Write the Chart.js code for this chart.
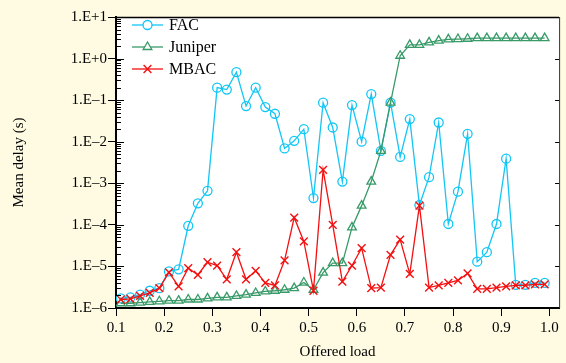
<!DOCTYPE html>
<html>
<head>
<meta charset="utf-8">
<script src="https://cdn.jsdelivr.net/npm/chart.js@4.4.1/dist/chart.umd.min.js"></script>
<style>
  html, body { margin: 0; padding: 0; background: #fefbe2; }
  #wrap { width: 566px; height: 363px; }
</style>
</head>
<body>
<div id="wrap"><canvas id="delayChart" width="566" height="363"></canvas></div>
<script>
// offered load (x positions of the samples)
const loads = [0.11, 0.13, 0.15, 0.17, 0.19, 0.21, 0.23, 0.25, 0.27, 0.29,
               0.31, 0.33, 0.35, 0.37, 0.39, 0.41, 0.43, 0.45, 0.47, 0.49,
               0.51, 0.53, 0.55, 0.57, 0.59, 0.61, 0.63, 0.65, 0.67, 0.69,
               0.71, 0.73, 0.75, 0.77, 0.79, 0.81, 0.83, 0.85, 0.87, 0.89,
               0.91, 0.93, 0.95, 0.97, 0.99];

// mean delay in seconds
const facDelay = [1.7e-6, 1.8e-6, 2.1e-6, 2.6e-6, 3.0e-6, 7.6e-6, 8.5e-6, 9.5e-5, 3.3e-4, 6.6e-4,
                  0.20, 0.18, 0.47, 0.072, 0.20, 0.068, 0.047, 0.0069, 0.0105, 0.020,
                  4.4e-4, 0.087, 0.022, 0.0011, 0.076, 0.010, 0.14, 0.0060, 0.087, 0.0043,
                  0.035, 3.0e-4, 0.0014, 0.029, 1.05e-4, 6.3e-4, 0.0155, 1.3e-5, 2.2e-5, 1.05e-4,
                  0.0039, 3.6e-6, 3.6e-6, 4.0e-6, 4.0e-6];
const juniperDelay = [1.3e-6, 1.3e-6, 1.35e-6, 1.4e-6, 1.45e-6, 1.5e-6, 1.5e-6, 1.6e-6, 1.6e-6, 1.7e-6,
                      1.8e-6, 1.8e-6, 1.95e-6, 2.1e-6, 2.3e-6, 2.5e-6, 2.6e-6, 2.75e-6, 3.0e-6, 4.1e-6,
                      2.75e-6, 7.1e-6, 1.2e-5, 1.2e-5, 8.7e-5, 2.9e-4, 0.0011, 0.006, 0.087, 1.17,
                      2.14, 2.14, 2.45, 2.7, 2.9, 2.95, 3.0, 3.1, 3.1, 3.1,
                      3.1, 3.1, 3.1, 3.1, 3.1];
const mbacDelay = [1.6e-6, 1.65e-6, 1.95e-6, 2.3e-6, 3.0e-6, 7.2e-6, 3.3e-6, 9.1e-6, 6.3e-6, 1.26e-5,
                   1.05e-5, 4.9e-6, 2.2e-5, 4.9e-6, 7.8e-6, 4.0e-6, 3.5e-6, 1.4e-5, 1.5e-4, 4.0e-5,
                   2.6e-6, 0.0021, 1.0e-4, 4.3e-6, 1.05e-5, 2.75e-5, 3.0e-6, 3.1e-6, 1.9e-5, 4.4e-5,
                   6.6e-6, 2.9e-4, 3.1e-6, 3.5e-6, 4.0e-6, 4.6e-6, 6.8e-6, 2.9e-6, 2.9e-6, 3.1e-6,
                   3.3e-6, 3.5e-6, 3.5e-6, 3.7e-6, 3.7e-6];

const xTicks = [0.1, 0.2, 0.3, 0.4, 0.5, 0.6, 0.7, 0.8, 0.9, 1.0];
const yTicks = [1e-6, 1e-5, 1e-4, 1e-3, 1e-2, 1e-1, 1, 10];
const yTickLabels = ['1.E\u20136', '1.E\u20135', '1.E\u20134', '1.E\u20133', '1.E\u20132', '1.E\u20131', '1.E+0', '1.E+1'];

const FONT = 'Liberation Serif, Times New Roman, serif';

function pts(values) {
    return values.map((v, i) => ({ x: loads[i], y: v }));
}

// white plot area, frame, inner log ticks
const framePlugin = {
    id: 'frame',
    beforeDraw(chart) {
        const { ctx, chartArea: a } = chart;
        ctx.save();
        ctx.fillStyle = '#ffffff';
        ctx.fillRect(a.left, a.top, a.right - a.left, a.bottom - a.top);
        ctx.restore();
    },
    afterDraw(chart) {
        const { ctx, chartArea: a, scales } = chart;
        const y = scales.y;
        ctx.save();
        ctx.strokeStyle = '#000';
        ctx.lineWidth = 1;
        for (let e = -6; e <= 1; e++) {
            const py = Math.round(y.getPixelForValue(Math.pow(10, e))) + 0.5;
            ctx.beginPath();
            ctx.moveTo(a.left, py); ctx.lineTo(a.left + 8, py);
            ctx.moveTo(a.right, py); ctx.lineTo(a.right - 4, py);
            ctx.stroke();
            if (e === 1) break;
            for (let m = 2; m <= 9; m++) {
                const pm = Math.round(y.getPixelForValue(m * Math.pow(10, e))) + 0.5;
                ctx.beginPath();
                ctx.moveTo(a.left, pm); ctx.lineTo(a.left + 5, pm);
                ctx.stroke();
            }
        }
        ctx.lineWidth = 1.5;
        ctx.beginPath();
        ctx.moveTo(a.left, a.top + 0.5); ctx.lineTo(a.right, a.top + 0.5);
        ctx.stroke();
        ctx.lineWidth = 1;
        ctx.strokeStyle = '#333';
        ctx.beginPath();
        ctx.moveTo(a.right + 0.5, a.top); ctx.lineTo(a.right + 0.5, a.bottom);
        ctx.stroke();
        ctx.restore();
    }
};

// legend inside the plot, top left
const legendPlugin = {
    id: 'innerLegend',
    afterDraw(chart) {
        const { ctx } = chart;
        const rows = [0, 1, 2];
        ctx.save();
        rows.forEach((di, r) => {
            const ds = chart.data.datasets[di];
            const yy = 25 + r * 22;
            ctx.strokeStyle = ds.borderColor;
            ctx.lineWidth = ds.borderWidth;
            ctx.beginPath();
            ctx.moveTo(132, yy); ctx.lineTo(163, yy);
            ctx.stroke();
            // hollow marker
            ctx.fillStyle = '#ffffff';
            ctx.strokeStyle = ds.borderColor;
            ctx.lineWidth = ds.pointBorderWidth;
            Chart.helpers.drawPoint(ctx, {
                pointStyle: ds.pointStyle,
                radius: ds.pointRadius,
                borderWidth: ds.pointBorderWidth,
                rotation: 0
            }, 147.5, yy);
            ctx.fillStyle = '#000';
            ctx.font = '16px ' + FONT;
            ctx.textBaseline = 'middle';
            ctx.textAlign = 'left';
            ctx.fillText(ds.label, 169, yy + 1);
        });
        ctx.restore();
    }
};

const ctx = document.getElementById('delayChart').getContext('2d');
new Chart(ctx, {
    type: 'line',
    data: {
        datasets: [{
            label: 'FAC',
            data: pts(facDelay),
            borderColor: '#12c6f6',
            backgroundColor: 'rgba(0,0,0,0)',
            borderWidth: 1.3,
            pointStyle: 'circle',
            pointRadius: 4.5,
            pointBorderWidth: 1.3,
            pointBackgroundColor: 'rgba(0,0,0,0)',
            order: 2
        },
        {
            label: 'Juniper',
            data: pts(juniperDelay),
            borderColor: '#389a68',
            backgroundColor: 'rgba(0,0,0,0)',
            borderWidth: 1.3,
            pointStyle: 'triangle',
            pointRadius: 5,
            pointBorderWidth: 1.3,
            pointBackgroundColor: 'rgba(0,0,0,0)',
            order: 1
        },
        {
            label: 'MBAC',
            data: pts(mbacDelay),
            borderColor: '#f41010',
            backgroundColor: 'rgba(0,0,0,0)',
            borderWidth: 1.3,
            pointStyle: 'crossRot',
            pointRadius: 5.5,
            pointBorderWidth: 1.4,
            pointBackgroundColor: 'rgba(0,0,0,0)',
            order: 0
        }]
    },
    options: {
        responsive: false,
        animation: false,
        layout: { padding: { top: 17, right: 4, left: 0, bottom: 0 } },
        plugins: {
            legend: { display: false },
            tooltip: { enabled: false }
        },
        elements: { line: { tension: 0 } },
        scales: {
            x: {
                type: 'linear',
                min: 0.1,
                max: 1.02,
                afterBuildTicks: (s) => { s.ticks = xTicks.map(v => ({ value: v })); },
                afterFit: (s) => { s.height = 55; },
                grid: { drawOnChartArea: false, tickLength: 8, color: '#000', lineWidth: 1 },
                border: { color: '#000', width: 2 },
                ticks: {
                    color: '#000',
                    font: { family: FONT, size: 15 },
                    padding: 3,
                    autoSkip: false,
                    maxRotation: 0,
                    callback: (v) => Number(v).toFixed(1)
                },
                title: {
                    display: true,
                    text: 'Offered load',
                    color: '#000',
                    font: { family: FONT, size: 15 },
                    padding: { top: 0, bottom: 2 }
                }
            },
            y: {
                type: 'logarithmic',
                min: 1e-6,
                max: 10,
                afterBuildTicks: (s) => { s.ticks = yTicks.map(v => ({ value: v })); },
                afterFit: (s) => { s.width = 116; },
                grid: { drawOnChartArea: false, tickLength: 8, color: '#000', lineWidth: 1 },
                border: { color: '#000', width: 2 },
                ticks: {
                    color: '#000',
                    font: { family: FONT, size: 15 },
                    padding: 1,
                    autoSkip: false,
                    callback: (v, i) => yTickLabels[i]
                },
                title: {
                    display: true,
                    text: 'Mean delay (s)',
                    color: '#000',
                    font: { family: FONT, size: 15 },
                    padding: { top: 10, bottom: 0 }
                }
            }
        }
    },
    plugins: [framePlugin, legendPlugin]
});
</script>
</body>
</html>
